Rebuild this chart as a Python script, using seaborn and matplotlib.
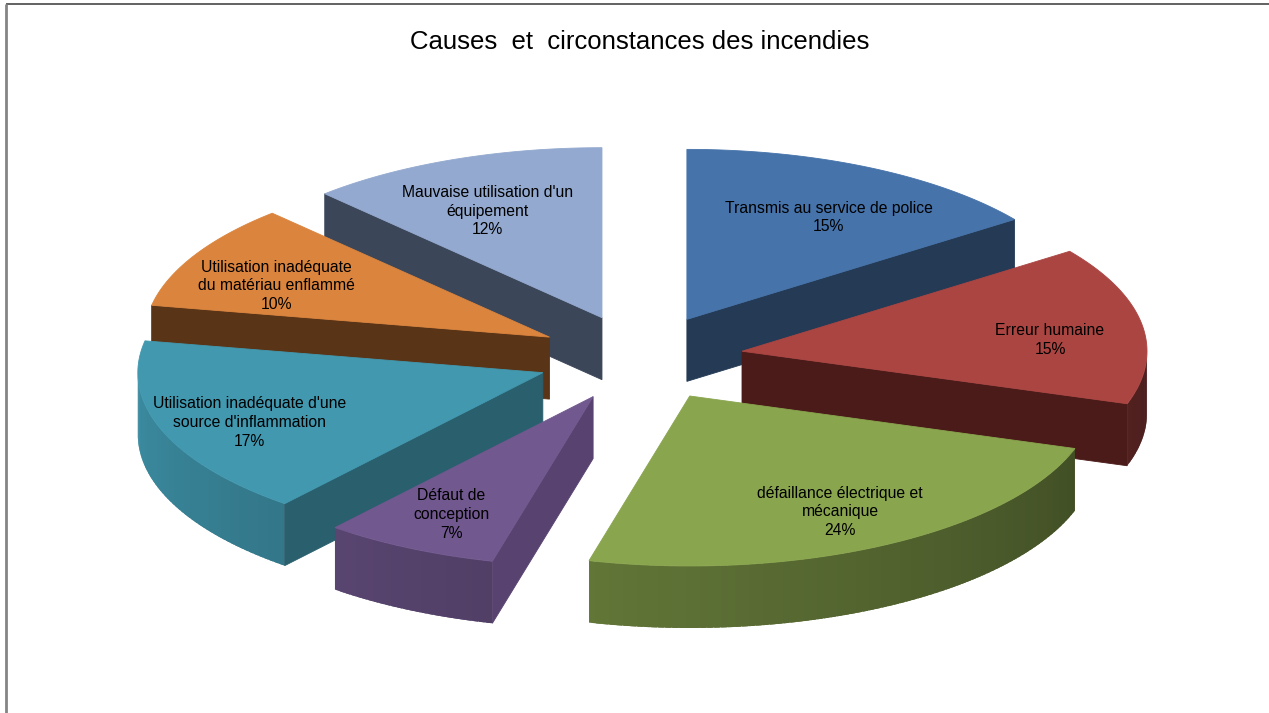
import numpy as np
import matplotlib
matplotlib.use("Agg")
import matplotlib.pyplot as plt
import seaborn as sns
from matplotlib.colors import to_rgb

# ---- data ----
title = "Causes  et  circonstances des incendies"
categories = [
    "Transmis au service de police",
    "Erreur humaine",
    "défaillance électrique et\nmécanique",
    "Défaut de\nconception",
    "Utilisation inadéquate d'une\nsource d'inflammation",
    "Utilisation inadéquate\ndu matériau enflammé",
    "Mauvaise utilisation d'un\néquipement",
]
values = [15, 15, 24, 7, 17, 10, 12]

# ---- style ----
top_colors = ["#4673AA", "#AB4542", "#89A54E", "#71588F", "#4198AF", "#DB843D", "#93A9CF"]
side_colors = ["#243A55", "#4A1B19", "#3E4A23", "#58426F", "#2A5F6E", "#5A3417", "#3B4659"]

sns.set_theme(style="white")
plt.rcParams['font.family'] = ['Liberation Sans', 'DejaVu Sans']

fig = plt.figure(figsize=(12.69, 7.13), dpi=100)
ax = fig.add_axes([0, 0, 1, 1])
ax.set_xlim(0, 1269)
ax.set_ylim(713, 0)
ax.axis('off')

# frame (top & left edges visible)
ax.plot([6, 1269], [4, 4], color="#555555", lw=1.3, solid_capstyle='butt')
ax.plot([6, 6], [4, 713], color="#858585", lw=2.0, solid_capstyle='butt')

CX, CY, RX, RY, DEPTH, EXPLODE = 640, 358, 405, 170, 62, 0.255

fr = np.array(values, dtype=float) / sum(values)
cum = np.concatenate([[0], np.cumsum(fr)])
a_hi = 90 - 360 * cum[:-1]
a_lo = 90 - 360 * cum[1:]
mids = (a_hi + a_lo) / 2


def pt(t, ox, oy, dz=0.0):
    r = np.radians(t)
    return (CX + ox + RX * np.cos(r), CY + oy - RY * np.sin(r) + dz)


def shade(col, f):
    c = np.array(to_rgb(col)) * f
    return tuple(np.clip(c, 0, 1))


def light(t):
    u = ((t - 180) % 360) / 180.0
    return 0.92 - 0.49 * u


order = np.argsort(-np.sin(np.radians(mids)))
for i in order:
    a1, a2, m = a_lo[i], a_hi[i], mids[i]
    mr = np.radians(m)
    ox = EXPLODE * RX * np.cos(mr)
    oy = -EXPLODE * RY * np.sin(mr)
    apex = (CX + ox, CY + oy)

    # outer curved side (front half only), gradient strips
    for k in range(-2, 2):
        lo = max(a1, 180 + 360 * k)
        hi = min(a2, 360 + 360 * k)
        if hi > lo:
            ts = np.linspace(lo, hi, max(3, int(hi - lo) + 2))
            for j, (t0, t1) in enumerate(zip(ts[:-1], ts[1:])):
                t1e = min(hi, t1 + 0.8)
                ss = np.linspace(t0, t1e, 4)
                top = [pt(t, ox, oy) for t in ss]
                bot = [pt(t, ox, oy, DEPTH) for t in ss[::-1]]
                poly = top + bot
                c = shade(top_colors[i], light((t0 + t1) / 2))
                ax.fill([p[0] for p in poly], [p[1] for p in poly],
                        facecolor=c, edgecolor='none', lw=0, zorder=2)

    # radial faces
    for t, vis in ((a1, np.cos(np.radians(a1)) > 1e-9), (a2, np.cos(np.radians(a2)) < -1e-9)):
        if vis:
            p = pt(t, ox, oy)
            xs = [apex[0], p[0], p[0], apex[0]]
            ys = [apex[1], p[1], p[1] + DEPTH, apex[1] + DEPTH]
            ax.fill(xs, ys, facecolor=side_colors[i], edgecolor=side_colors[i], lw=0.6, zorder=2)

    # top face
    ts = np.linspace(a1, a2, 200)
    xs = [apex[0]] + [pt(t, ox, oy)[0] for t in ts]
    ys = [apex[1]] + [pt(t, ox, oy)[1] for t in ts]
    ax.fill(xs, ys, facecolor=top_colors[i], edgecolor=top_colors[i], lw=0.6, zorder=2)

    # label
    lx = apex[0] + 0.77 * RX * np.cos(mr)
    ly = apex[1] - 0.725 * RY * np.sin(mr) + 8
    ax.text(lx, ly, f"{categories[i]}\n{values[i]}%", ha='center', va='center',
            multialignment='center', fontsize=11.3, linespacing=1.3,
            color='black', zorder=5)

ax.text(640, 42, title, ha='center', va='center', fontsize=18.5, color='black')

fig.savefig("out.png", dpi=100)
